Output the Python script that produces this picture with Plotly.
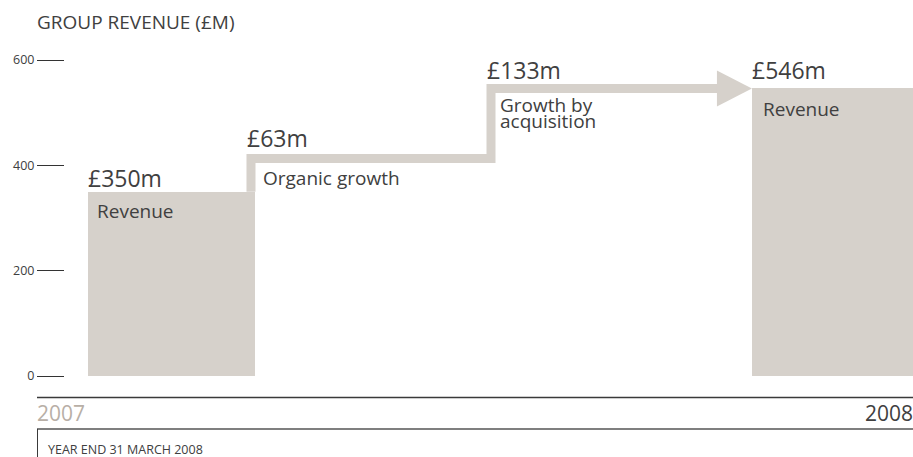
import plotly.graph_objects as go

# ---- data ----
periods = ["2007", "2008"]
revenue = [350, 546]
bridge_names = [["Organic growth"], ["Growth by", "acquisition"]]
bridge_values = [63, 133]
y_ticks = [0, 200, 400, 600]
title_text = "GROUP REVENUE (£M)"
footnote = "YEAR END 31 MARCH 2008"
bar_label = "Revenue"

# ---- layout constants (pixels) ----
W, H = 913, 457
UNIT = 221.3          # px per x unit
X0_PX = 171.5         # px of x=0
PXV = 0.5266          # px per £m
Y0_PX = 376           # px of y=0
BAR_W = 0.7545
FILL = "#d6d1cb"
TXT = "#404040"
FONT = "Open Sans"

xr = [-X0_PX / UNIT, (W - X0_PX) / UNIT]
yr = [-(H - Y0_PX) / PXV, Y0_PX / PXV]

bar_x = [0, 3]
lvl0 = revenue[0]
lvl1 = lvl0 + bridge_values[0]
lvl2 = lvl1 + bridge_values[1]

v1x = bar_x[0] + BAR_W / 2 - 4 / UNIT
v2x = (491 - X0_PX) / UNIT
tip = bar_x[1] - BAR_W / 2
head_len = 35 / UNIT
head_half = 18 / PXV

fig = go.Figure()
fig.add_trace(go.Bar(x=bar_x, y=revenue, width=BAR_W, marker=dict(color=FILL, line=dict(width=0)),
                     hoverinfo="skip", showlegend=False))
fig.add_trace(go.Scatter(x=[v1x, v1x, v2x, v2x, tip - head_len + 1 / UNIT],
                         y=[lvl0, lvl1, lvl1, lvl2, lvl2], mode="lines",
                         line=dict(color=FILL, width=9), hoverinfo="skip", showlegend=False))
fig.add_trace(go.Scatter(x=[tip - head_len, tip, tip - head_len, tip - head_len],
                         y=[lvl2 + head_half, lvl2, lvl2 - head_half, lvl2 + head_half],
                         mode="lines", fill="toself", fillcolor=FILL, line=dict(width=0, color=FILL),
                         hoverinfo="skip", showlegend=False))

ann = []
def add(text, x, y, size, xs=0, ys=0, color=TXT, xref="x", yref="y", xanchor="left"):
    ann.append(dict(text=text, x=x, y=y, xref=xref, yref=yref, xanchor=xanchor, yanchor="middle",
                    xshift=xs, yshift=ys, showarrow=False, font=dict(family=FONT, size=size, color=color)))

VAL = 23
LAB = 19
# 2007 bar
add(f"£{revenue[0]}m", bar_x[0] - BAR_W / 2, revenue[0], VAL, xs=-2, ys=14)
add(bar_label, bar_x[0] - BAR_W / 2, revenue[0], LAB, xs=7, ys=-19)
# organic
add(f"£{bridge_values[0]}m", v1x, lvl1, VAL, xs=-6, ys=20.5)
add(bridge_names[0][0], v1x, lvl1, LAB, xs=10, ys=-19.5)
# acquisition
add(f"£{bridge_values[1]}m", v2x, lvl2, VAL, xs=-6, ys=18.5)
for i, line in enumerate(bridge_names[1]):
    add(line, v2x, lvl2, LAB, xs=7, ys=-16.5 - 16 * i)
# 2008 bar
add(f"£{revenue[1]}m", tip, revenue[1], VAL, xs=-2, ys=18.5)
add(bar_label, tip, revenue[1], LAB, xs=9, ys=-20.5)

# title, years, footnote (paper coords)
def py(px):
    return 1 - px / H
def px_(x):
    return x / W
add(title_text, px_(35), py(22), 19, xref="paper", yref="paper")
add(periods[0], px_(35), py(413), 21, color="#b8afa6", xref="paper", yref="paper")
add(periods[1], px_(915), py(413), 21, color=TXT, xref="paper", yref="paper", xanchor="right")
add(footnote, px_(46), py(449), 12.5, color=TXT, xref="paper", yref="paper")

shapes = [
    dict(type="line", xref="paper", yref="paper", x0=px_(37), x1=1, y0=py(397.5), y1=py(397.5),
         line=dict(color="#3a3a3a", width=1.5)),
    dict(type="line", xref="paper", yref="paper", x0=px_(37), x1=1, y0=py(429), y1=py(429),
         line=dict(color="#555555", width=1.5)),
    dict(type="line", xref="paper", yref="paper", x0=px_(37.5), x1=px_(37.5), y0=py(429), y1=0,
         line=dict(color="#3a3a3a", width=1)),
]

fig.update_layout(
    width=W, height=H, margin=dict(l=0, r=0, t=0, b=0),
    paper_bgcolor="white", plot_bgcolor="white",
    annotations=ann, shapes=shapes, showlegend=False, bargap=0,
    xaxis=dict(range=xr, visible=False, fixedrange=True),
    yaxis=dict(range=yr, anchor="free", position=64 / W, showgrid=False, zeroline=False,
               showline=False, tickvals=y_ticks, ticktext=[str(t) for t in y_ticks],
               ticks="outside", ticklen=27, tickwidth=1, tickcolor="#333333",
               tickfont=dict(family=FONT, size=12.5, color=TXT), automargin=False, fixedrange=True),
)

fig.write_html("out.html")
